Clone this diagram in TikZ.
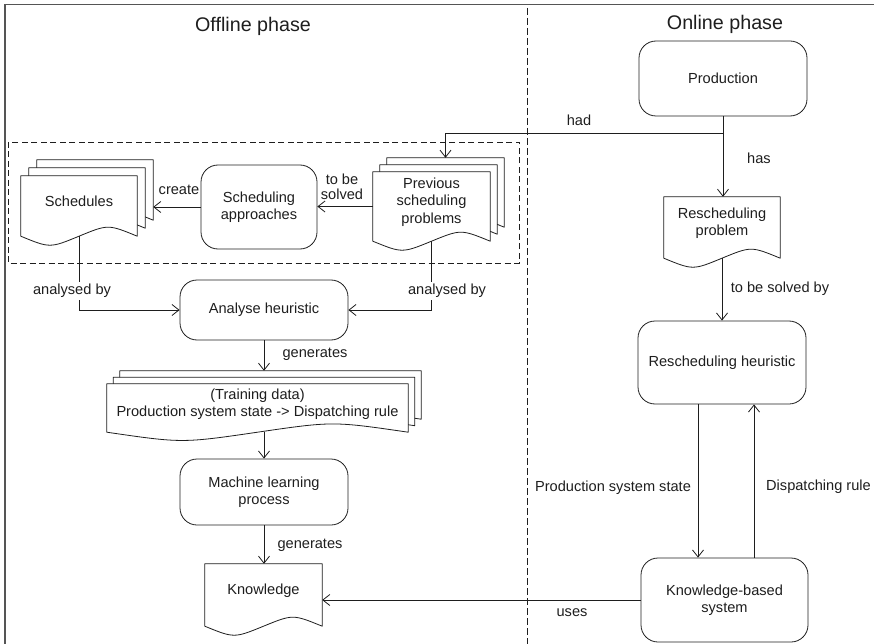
\documentclass[tikz,border=0pt]{standalone}
\usepackage{fontspec}
\setmainfont{Liberation Sans}
\usetikzlibrary{arrows.meta,calc,backgrounds}
\definecolor{ink}{HTML}{1E1E1E}
\definecolor{framec}{HTML}{555555}
\tikzset{
  base/.style={font=\fontsize{14.6}{17.5}\selectfont, text=ink, align=center, inner sep=0pt},
  title/.style={font=\fontsize{19.7}{23}\selectfont, text=ink, inner sep=0pt},
  proc/.style={base, draw=ink, line width=0.8pt, rounded corners=17pt},
  docnode/.style={base},
  docline/.style={draw=ink, fill=white, line width=0.8pt, line join=round},
  arr/.style={draw=ink, line width=0.8pt, -{Straight Barb[length=7pt,width=11pt]}},
  frameline/.style={draw=framec, line width=1.3pt},
  phaseline/.style={draw=ink, line width=0.8pt, dash pattern=on 7pt off 3pt},
  groupline/.style={draw=ink, line width=0.8pt, dash pattern=on 6pt off 3.5pt},
  cover/.style={base, fill=white, inner xsep=1pt, inner ysep=2pt}
}
% name, control offset, dx, dy (bare units)
\newcommand\docshape[4]{%
  \path[docline] ($(#1.north west)+(#3,#4)$) -- ($(#1.north east)+(#3,#4)$) -- ($(#1.south east)+(#3,#4)$)
   .. controls ($(#1.south east)!0.25!(#1.south west)+(#3,#4-#2)$) .. ($(#1.south)+(#3,#4)$)
   .. controls ($(#1.south east)!0.75!(#1.south west)+(#3,#4+#2)$) .. ($(#1.south west)+(#3,#4)$) -- cycle;}
\begin{document}
\begin{tikzpicture}[x=1pt,y=-1pt]
\useasboundingbox (0,0) rectangle (874,644);
% frame and phase separator
\draw[frameline] (5,644) -- (5,4.5) -- (874,4.5);
\draw[phaseline] (527,8) -- (527,644);
\node[title] (offT) at (253,26) {Offline phase};
\node[title] (onT) at (725,24) {Online phase};

% online nodes
\node[proc, minimum width=168pt, minimum height=75pt] (prod) at (723,78.5) {Production};
\node[docnode, minimum width=116pt, minimum height=61pt,
  label={[base,yshift=4.5pt]center:{Rescheduling\\problem}}] (rprob) at (722,227.5) {};
\node[proc, minimum width=168pt, minimum height=83pt] (rh) at (722,362.5) {Rescheduling heuristic};
\node[proc, minimum width=167pt, minimum height=84pt] (kbs) at (724.5,600) {Knowledge-based\\system};

% offline nodes
\node[docnode, minimum width=116pt, minimum height=60pt,
  label={[base,yshift=5pt]center:Schedules}] (sched) at (79,206) {};
\node[proc, minimum width=116pt, minimum height=84pt] (sa) at (259,207) {Scheduling\\approaches};
\node[docnode, minimum width=117pt, minimum height=69pt,
  label={[base,yshift=4.5pt]center:{Previous\\scheduling\\problems}}] (prev) at (431.5,206.5) {};
\node[proc, minimum width=168pt, minimum height=60pt] (ah) at (264,310) {Analyse heuristic};
\node[docnode, minimum width=301pt, minimum height=48pt,
  label={[base,yshift=4pt]center:{(Training data)\\Production system state -> Dispatching rule}}] (train) at (257.5,408) {};
\node[proc, minimum width=168pt, minimum height=66pt] (ml) at (264,492) {Machine learning\\process};
\node[docnode, minimum width=117pt, minimum height=62pt,
  label={[base,yshift=4pt]center:Knowledge}] (know) at (263.5,595) {};

% shapes on background
\begin{pgfonlayer}{background}
\draw[groupline] (8,142) rectangle (519,263);
\docshape{sched}{12}{16}{-16}
\docshape{sched}{12}{8}{-8}
\docshape{sched}{12}{0}{0}
\docshape{prev}{12}{14}{-14}
\docshape{prev}{12}{7}{-7}
\docshape{prev}{12}{0}{0}
\docshape{train}{11}{13}{-13}
\docshape{train}{11}{6.5}{-6.5}
\docshape{train}{11}{0}{0}
\docshape{rprob}{12}{0}{0}
\docshape{know}{12}{0}{0}
\end{pgfonlayer}

% helper coordinates
\coordinate (jn) at ($(prod.south)+(0,17)$);
\coordinate (prevtop) at ($(prev.north)+(14,-14)$);
\coordinate (schedR) at ($(sched.east)+(16,0)$);
\coordinate (trtop) at ($(train.north)+(13,-13)$);
\coordinate (rhL) at ($(rh.south)+(-24,0)$);
\coordinate (rhR) at ($(rh.south)+(32,0)$);

% connectors
\draw[arr] (prod.south) -- (prod.south |- rprob.north);
\draw[arr] (jn) -| (prevtop);
\draw[arr] (rprob.south) -- (rprob.south |- rh.north);
\draw[arr] (rhL) -- (rhL |- kbs.north);
\draw[arr] (rhR |- kbs.north) -- (rhR);
\draw[arr] (kbs.west) -- (kbs.west -| know.east);
\draw[arr] (prev.west) -- (prev.west -| sa.east);
\draw[arr] (sa.west) -- (sa.west -| schedR);
\draw[arr] (sched.south) |- (ah.west);
\draw[arr] (prev.south) |- (ah.east);
\draw[arr] (ah.south) -- (ah.south |- trtop);
\draw[arr] (ml.north |- train.south) -- (ml.north);
\draw[arr] (ml.south) -- (ml.south |- know.north);

% labels
\node[base] (lHad) at (579,120) {had};
\node[base] (lHas) at (759,158) {has};
\node[base] (lSolvedBy) at (780,289) {to be solved by};
\node[base] (lPSS) at (613,488) {Production system state};
\node[base] (lDR) at (818.5,487) {Dispatching rule};
\node[base] (lUses) at (572,613) {uses};
\node[base] (lGen1) at (315,354) {generates};
\node[base] (lGen2) at (310,545) {generates};
\node[base] (lCreate) at (179,190) {create};
\node[base, font=\fontsize{14.6}{15}\selectfont] (lSolved) at (342,187) {to be\\solved};
\node[cover] (lAn1) at (72,291) {analysed by};
\node[cover] (lAn2) at (447,291) {analysed by};
\end{tikzpicture}
\end{document}
